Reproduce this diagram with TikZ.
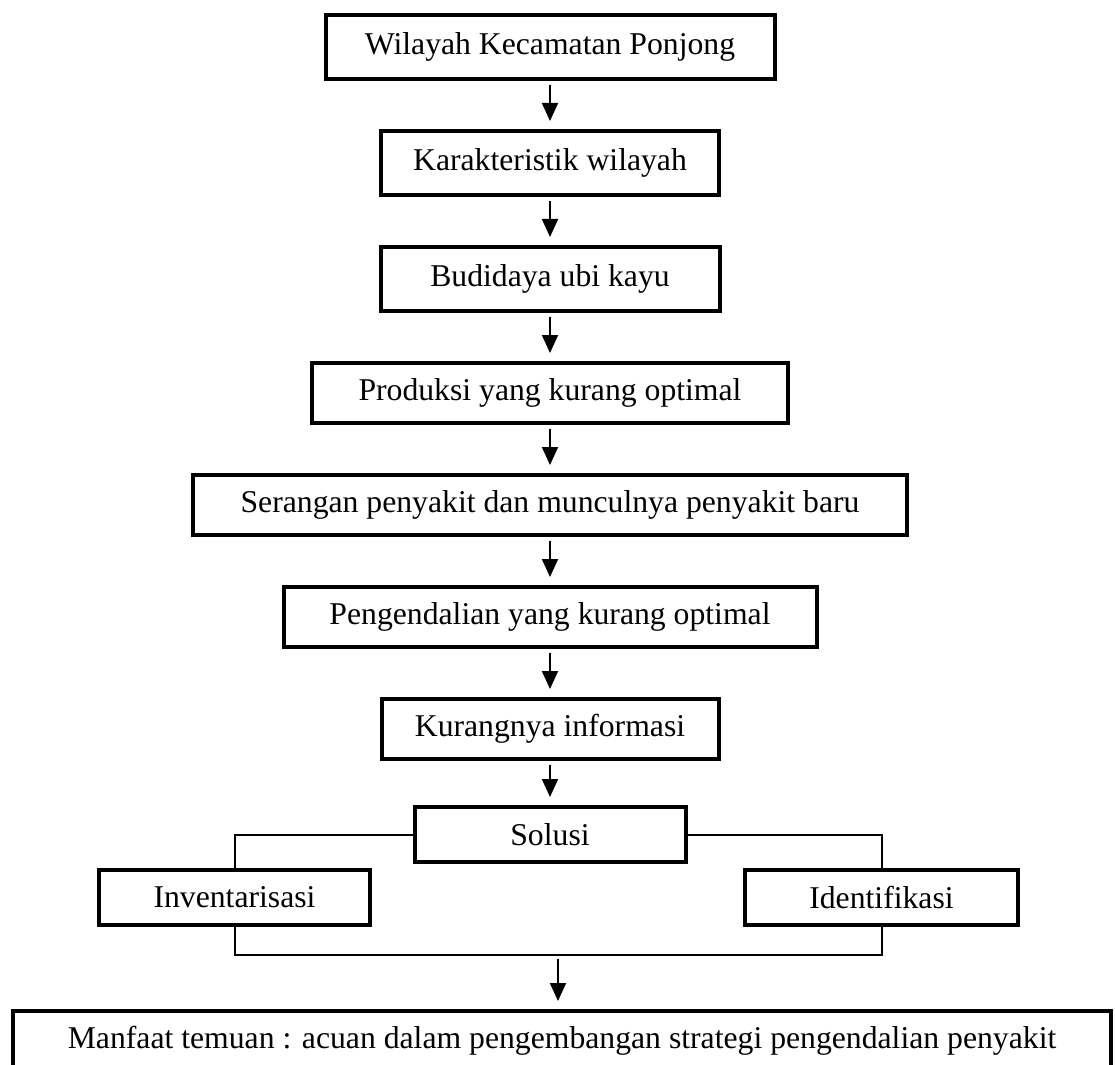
\documentclass[tikz,border=0pt]{standalone}
\usepackage{fontspec}
\setmainfont{Liberation Serif}
\usetikzlibrary{positioning, arrows.meta}

\tikzset{
  kotak/.style={draw, rectangle, line width=2pt, minimum height=30pt, inner sep=2pt, font=\fontsize{15.85pt}{19pt}\selectfont},
  panah/.style={-{Triangle[length=9pt,width=8pt]}, line width=1pt, shorten <=2pt, shorten >=4pt},
  garis/.style={line width=1pt}
}

\begin{document}
\begin{tikzpicture}[node distance=24pt]
  \useasboundingbox (0,0) rectangle (557.5pt,-532.5pt);

  % alur utama
  \node[kotak, anchor=north, minimum width=224.5pt, minimum height=32pt] (wilayah) at (275pt,-6.5pt) {Wilayah Kecamatan Ponjong};
  \node[kotak, below=of wilayah, minimum width=169pt, minimum height=32pt] (karakter) {Karakteristik wilayah};
  \node[kotak, below=of karakter, minimum width=169.5pt, minimum height=32pt] (budidaya) {Budidaya ubi kayu};
  \node[kotak, below=of budidaya, minimum width=238pt] (produksi) {Produksi yang kurang optimal};
  \node[kotak, below=of produksi, minimum width=357pt] (serangan) {Serangan penyakit dan munculnya penyakit baru};
  \node[kotak, below=of serangan, minimum width=266.5pt] (kendali) {Pengendalian yang kurang optimal};
  \node[kotak, below=of kendali, minimum width=168.5pt] (info) {Kurangnya informasi};
  \node[kotak, below=22pt of info, minimum width=135.5pt, minimum height=27.5pt] (solusi) {Solusi};

  % cabang solusi
  \node[kotak, below left=2pt and 20.25pt of solusi, minimum width=135.5pt, minimum height=27.5pt] (inventaris) {Inventarisasi};
  \node[kotak, below right=2pt and 27.75pt of solusi, minimum width=136.5pt, minimum height=27.5pt] (identifikasi) {Identifikasi};

  \coordinate[below=14pt of inventaris.south] (gabung);
  \coordinate[xshift=4pt] (merge) at (gabung -| solusi);
  \node[kotak, below=27pt of merge, xshift=2pt, minimum width=549pt, minimum height=30pt] (manfaat) {Manfaat temuan : acuan dalam pengembangan strategi pengendalian penyakit};

  \draw[panah] (wilayah) -- (karakter);
  \draw[panah] (karakter) -- (budidaya);
  \draw[panah] (budidaya) -- (produksi);
  \draw[panah] (produksi) -- (serangan);
  \draw[panah] (serangan) -- (kendali);
  \draw[panah] (kendali) -- (info);
  \draw[panah] (info) -- (solusi);

  \draw[garis] (solusi.west) -| (inventaris.north);
  \draw[garis] (solusi.east) -| (identifikasi.north);
  \draw[garis] (inventaris.south) -- (gabung) -| (identifikasi.south);
  \draw[panah] (merge) -- (merge |- manfaat.north);
\end{tikzpicture}
\end{document}
